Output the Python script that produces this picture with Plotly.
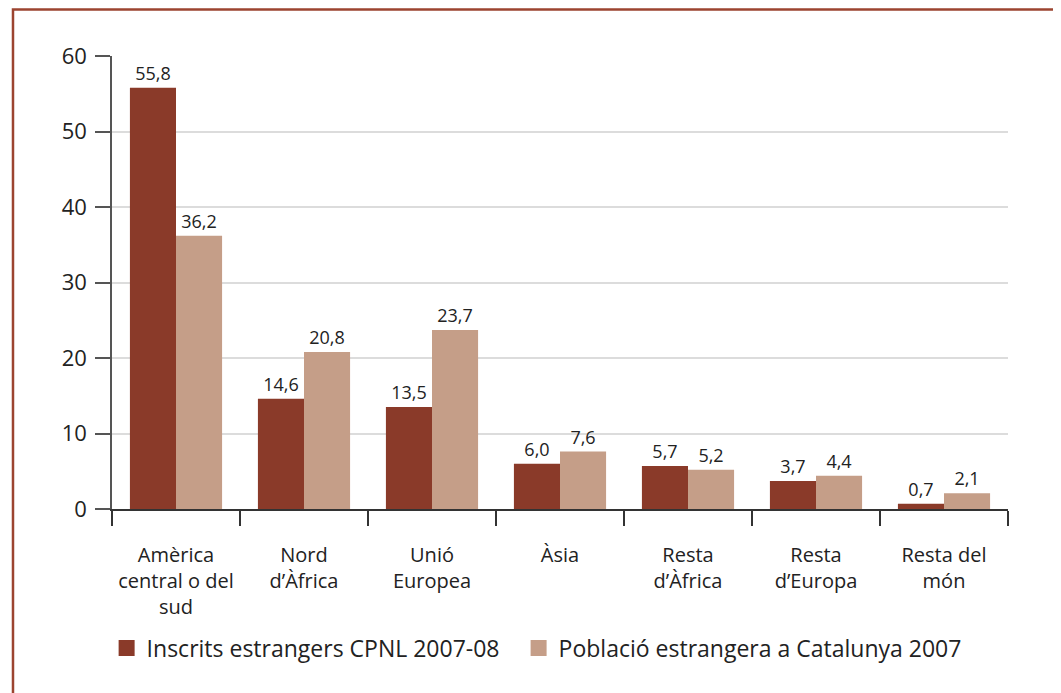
import plotly.graph_objects as go

categories = ["Amèrica<br>central o del<br>sud", "Nord<br>d’Àfrica", "Unió<br>Europea", "Àsia",
              "Resta<br>d’Àfrica", "Resta<br>d’Europa", "Resta del<br>món"]
inscrits = [55.8, 14.6, 13.5, 6.0, 5.7, 3.7, 0.7]
poblacio = [36.2, 20.8, 23.7, 7.6, 5.2, 4.4, 2.1]
series_names = ["Inscrits estrangers CPNL 2007-08", "Població estrangera a Catalunya 2007"]
colors = ["#8a3a29", "#c59e88"]
y_ticks = [0, 10, 20, 30, 40, 50, 60]

FONT = "Open Sans"
fig = go.Figure()
for name, vals, col in zip(series_names, [inscrits, poblacio], colors):
    fig.add_trace(go.Bar(
        x=categories, y=vals, name=name, marker=dict(color=col, line=dict(width=0)),
        text=vals, texttemplate="%{y:.1f}", textposition="outside",
        textfont=dict(family=FONT, size=18, color="#222222"),
        cliponaxis=False, showlegend=False,
    ))
# legend entries with square swatches, each in its own legend box
for name, col, lg in zip(series_names, colors, ["legend", "legend2"]):
    fig.add_trace(go.Scatter(
        x=[categories[0]], y=[None], mode="markers", name=name, legend=lg,
        marker=dict(symbol="square", size=17, color=col), showlegend=True,
    ))

legend_style = dict(orientation="h", xanchor="left", y=-0.307, yanchor="middle",
                    font=dict(family=FONT, size=23, color="#222222"),
                    bgcolor="rgba(0,0,0,0)", itemclick=False)

fig.update_layout(
    width=1061, height=693,
    margin=dict(l=104, r=61, t=48, b=192),
    paper_bgcolor="white", plot_bgcolor="white",
    barmode="group", bargap=0.28, bargroupgap=0,
    separators=", ",
    font=dict(family=FONT, color="#222222"),
    showlegend=True,
    legend=dict(x=-0.006, **legend_style),
    legend2=dict(x=0.4538, **legend_style),
    xaxis=dict(
        tickson="boundaries", ticks="outside", ticklen=15, tickwidth=1.5, tickcolor="#333333",
        showline=True, linecolor="#333333", linewidth=1.5,
        tickfont=dict(family=FONT, size=20, color="#222222"),
        ticklabelstandoff=27, showgrid=False, zeroline=False,
    ),
    yaxis=dict(
        range=[0, 60], tickvals=y_ticks, ticks="outside", ticklen=15, tickwidth=1.5,
        tickcolor="#555555", showline=True, linecolor="#555555", linewidth=1.5,
        tickfont=dict(family=FONT, size=22, color="#222222"),
        showgrid=True, gridcolor="#dcdcdc", gridwidth=1.5, zeroline=False,
        ticklabelstandoff=4,
    ),
    shapes=[dict(type="rect", xref="paper", yref="paper",
                 x0=-0.1105, x1=1.0525, y0=-0.46, y1=1.1026,
                 line=dict(color="#9c4430", width=2.5), fillcolor="rgba(0,0,0,0)", layer="below")],
)

fig.write_html("out.html")
